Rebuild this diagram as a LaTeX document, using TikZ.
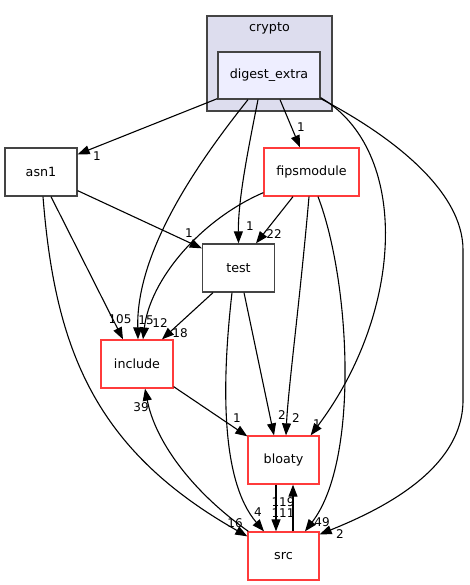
\documentclass[tikz,border=0pt]{standalone}
\usepackage{fontspec}
\setmainfont{DejaVu Sans}
\usetikzlibrary{arrows.meta}
\definecolor{dirred}{HTML}{FF3B3B}
\definecolor{dirgray}{HTML}{444444}
\definecolor{clusterfill}{HTML}{DDDDEE}
\definecolor{dirfill}{HTML}{EEEEFF}
\begin{document}
\begin{tikzpicture}[x=1pt,y=-1pt,
    box/.style={draw=dirgray,line width=1.3pt,minimum width=72pt,minimum height=48pt,inner sep=0pt,font=\fontsize{12.7}{15}\selectfont},
    redbox/.style={box,draw=dirred},
    dep/.style={-{Triangle[length=12pt,width=9pt]},line width=1.1pt},
    num/.style={inner sep=0pt,font=\fontsize{12}{14}\selectfont}]
    \useasboundingbox (0,0) rectangle (469,585);
    \node[box,fill=clusterfill,minimum width=125pt,minimum height=95pt] (crypto) at (269.5,63.5) {};
    \node[inner sep=0pt,font=\fontsize{12.7}{15}\selectfont] (cryptolabel) at (269.5,28) {crypto};
    \node[box,fill=dirfill,minimum width=102pt,minimum height=47pt] (de) at (269,75.5) {digest\_extra};
    \node[box] (asn1) at (41,172) {asn1};
    \node[redbox,minimum width=95pt] (fips) at (311.5,172) {fipsmodule};
    \node[box] (test) at (238.5,268) {test};
    \node[redbox] (inc) at (137,364) {include};
    \node[redbox,minimum width=71pt] (bloaty) at (283.5,460) {bloaty};
    \node[redbox,minimum width=71pt] (src) at (283.5,556) {src};
    \draw[dep] ([yshift=1pt]de.south west) -- ([yshift=-7pt]asn1.north east);
    \draw[dep] ([xshift=-21pt]de.south) .. controls (200,160) and (136,250) .. ([xshift=1pt]inc.north);
    \draw[dep] ([xshift=-11pt]de.south) .. controls (248,150) and (238,200) .. (test.north);
    \draw[dep] ([xshift=11pt]de.south) -- ([xshift=-11.5pt]fips.north);
    \draw[dep] ([yshift=2pt]de.south east) .. controls (410,150) and (405,310) .. ([xshift=-9pt]bloaty.north east);
    \draw[dep] ([yshift=1pt]de.south east) .. controls (390,135) and (463,190) .. (463,250) -- (463,400) .. controls (463,470) and (380,510) .. ([yshift=-3pt]src.north east);
    \draw[dep] ([yshift=6pt]asn1.south east) -- ([yshift=-5pt]test.north west);
    \draw[dep] ([xshift=10pt]asn1.south) -- ([xshift=-14pt]inc.north);
    \draw[dep] ([xshift=2pt]asn1.south) .. controls (55,350) and (95,450) .. ([yshift=-5pt]src.north west);
    \draw[dep] ([xshift=-18.5pt]fips.south) -- ([xshift=17.5pt]test.north);
    \draw[dep] ([yshift=4pt]fips.south west) .. controls (200,220) and (150,280) .. ([xshift=6pt]inc.north);
    \draw[dep] ([xshift=-2.5pt]fips.south) .. controls (300,300) and (288,390) .. ([xshift=2.5pt]bloaty.north);
    \draw[dep] ([xshift=6.5pt]fips.south) .. controls (350,280) and (360,460) .. ([xshift=21.5pt]src.north);
    \draw[dep] ([xshift=-25.5pt]test.south) -- ([xshift=25pt]inc.north);
    \draw[dep] ([xshift=5.5pt]test.south) -- ([xshift=-9.5pt]bloaty.north);
    \draw[dep] ([xshift=-6.5pt]test.south) .. controls (222,380) and (220,480) .. ([xshift=-19.5pt]src.north);
    \draw[dep] ([yshift=2pt]inc.south east) -- ([yshift=-1pt]bloaty.north west);
    \draw[dep] ([xshift=1pt]src.north west) .. controls (190,490) and (155,440) .. ([xshift=8pt]inc.south);
    \draw[dep] ([xshift=-7.5pt]bloaty.south) -- ([xshift=-7.5pt]src.north);
    \draw[dep] ([xshift=9.5pt]src.north) -- ([xshift=9.5pt]bloaty.south);
    \node[num] (n1) at (97,156) {1};
    \node[num] (n2) at (146,320) {15};
    \node[num] (n3) at (250,226) {1};
    \node[num] (n4) at (301,127) {1};
    \node[num] (n5) at (317,424) {1};
    \node[num] (n6) at (340,534) {2};
    \node[num] (n7) at (189,233) {1};
    \node[num] (n8) at (120,319) {105};
    \node[num] (n9) at (235,523) {16};
    \node[num] (n10) at (274,234) {22};
    \node[num] (n11) at (160,323) {12};
    \node[num] (n12) at (296,418) {2};
    \node[num] (n13) at (322,522) {49};
    \node[num] (n14) at (180,333) {18};
    \node[num] (n15) at (282,415) {2};
    \node[num] (n16) at (258,512) {4};
    \node[num] (n17) at (237,418) {1};
    \node[num] (n18) at (141,407) {39};
    \node[num] (n19) at (283,513) {111};
    \node[num] (n20) at (283,502) {119};
\end{tikzpicture}
\end{document}
